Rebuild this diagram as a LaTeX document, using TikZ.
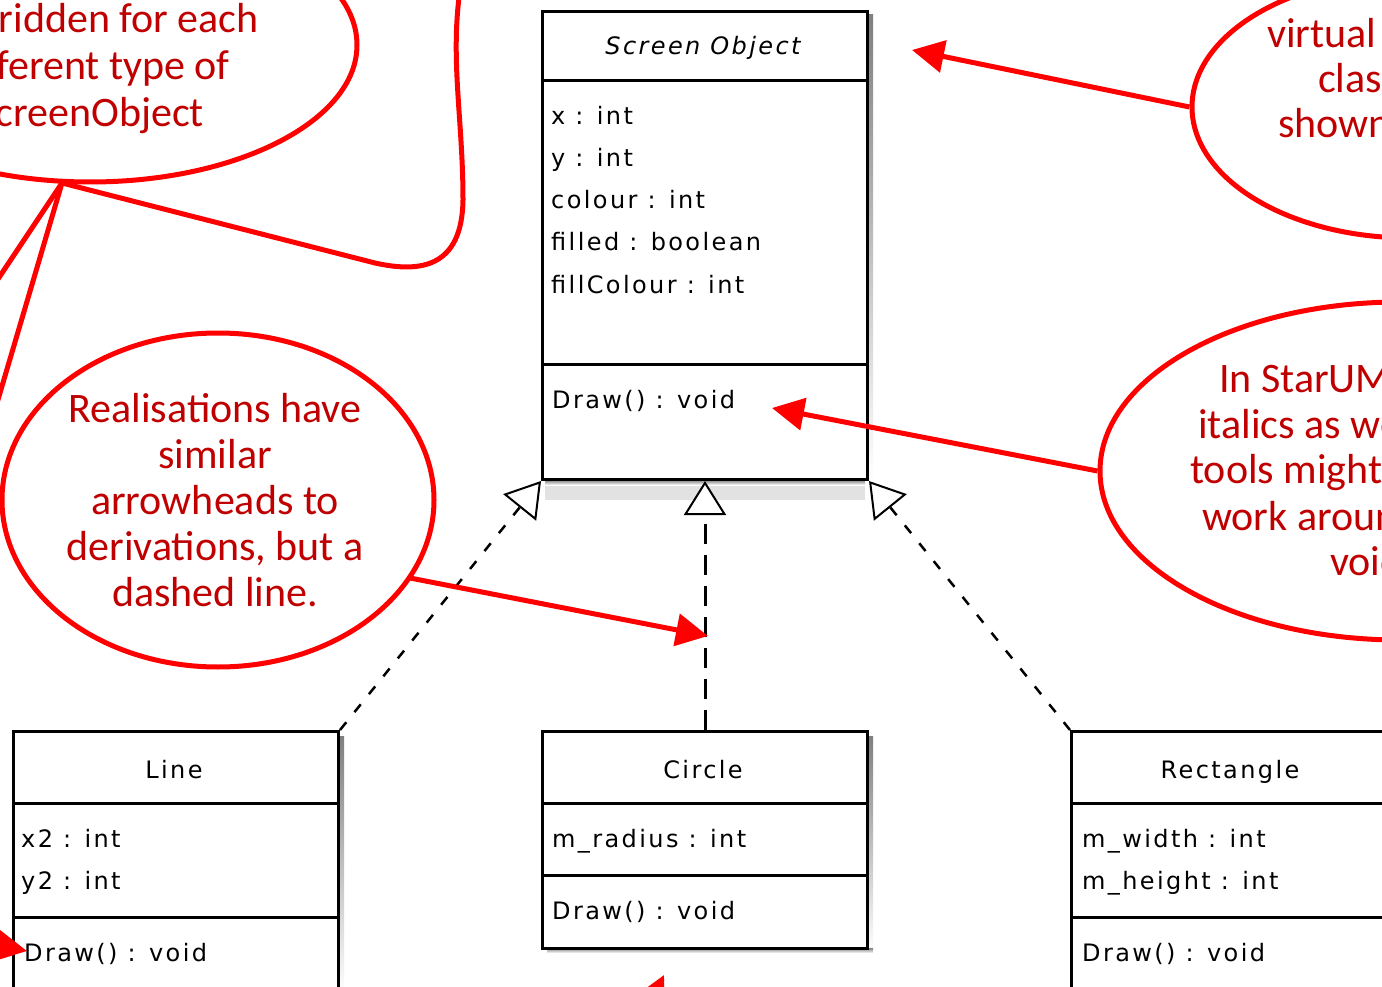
\documentclass[tikz,border=0pt]{standalone}
\usepackage{fontspec}
\usetikzlibrary{arrows.meta,shapes.geometric}
\newfontfamily\callfont{Carlito}
\newfontfamily\umlfont[LetterSpace=10]{DejaVu Sans}
\definecolor{calloutred}{HTML}{FF0000}
\definecolor{callouttext}{HTML}{C00000}
\definecolor{shade}{HTML}{D6D6D6}
\definecolor{shadelight}{HTML}{E2E2E2}

\begin{document}
\begin{tikzpicture}[x=1pt,y=-1pt,
  classbox/.style={draw=black, line width=3pt, fill=white, anchor=north west,
    minimum width=325pt, inner sep=0pt},
  divider/.style={line width=3pt},
  member/.style={anchor=base west, inner sep=0pt, font=\umlfont\fontsize{24}{24}\selectfont},
  classname/.style={anchor=base, inner sep=0pt, font=\umlfont\fontsize{24}{24}\selectfont},
  bubble/.style={ellipse, draw=calloutred, line width=5pt, inner sep=0pt},
  bubbleline/.style={draw=calloutred, line width=5pt, line join=round},
  note/.style={inner sep=0pt, text=callouttext, font=\callfont\fontsize{42}{46}\selectfont},
  pointer/.style={draw=calloutred, line width=5pt,
    -{Triangle[length=32pt,width=32pt,fill=calloutred]}},
  realise/.style={line width=2.5pt, dash pattern=on 10pt off 13pt,
    -{Triangle[length=34pt,width=42pt,fill=white,line width=2pt]}},
  realisev/.style={line width=3pt, dash pattern=on 20pt off 11pt,
    -{Triangle[length=34pt,width=42pt,fill=white,line width=2pt]}},
]
\useasboundingbox (0,0) rectangle (1382,987);
\clip (0,0) rectangle (1382,987);
\fill[white] (0,0) rectangle (1382,987);

% drop shadows of the class boxes
\fill[shade] (867,15) rectangle (873,480);
\fill[shadelight] (545,480) rectangle (865,500);
\fill[shade] (545,480) rectangle (865,485);
\fill[shade] (867,736) rectangle (873,953);
\fill[shade] (547,948) rectangle (873,953);
\fill[shade] (338,736) rectangle (344,995);

% ScreenObject
\node[classbox, minimum height=468pt] (so) at (541,10) {};
\draw[divider] (541,81) -- (866,81);
\draw[divider] (541,364) -- (866,364);
\node[classname, font=\umlfont\itshape\fontsize{24}{24}\selectfont] (soname) at (703,55) {Screen Object};
\node[member] (sox) at (551,125) {x : int};
\node[member] (soy) at (551,167) {y : int};
\node[member] (socol) at (551,209) {colour : int};
\node[member] (sofil) at (551,251) {filled : boolean};
\node[member] (sofc) at (551,294) {fillColour : int};
\node[member] (sodraw) at (552,408) {Draw() : void};

% Line
\node[classbox, minimum height=300pt] (line) at (12,730) {};
\draw[divider] (12,803) -- (337,803);
\draw[divider] (12,917) -- (337,917);
\node[classname] (linename) at (174,778) {Line};
\node[member] (linex) at (21,847) {x2 : int};
\node[member] (liney) at (21,889) {y2 : int};
\node[member] (linedraw) at (24,961) {Draw() : void};

% Circle
\node[classbox, minimum height=217pt] (circ) at (541,730) {};
\draw[divider] (541,803) -- (866,803);
\draw[divider] (541,875) -- (866,875);
\node[classname] (circname) at (703,778) {Circle};
\node[member] (circr) at (552,847) {m\_radius : int};
\node[member] (circdraw) at (552,919) {Draw() : void};

% Rectangle
\node[classbox, minimum height=300pt] (rect) at (1070,730) {};
\draw[divider] (1070,803) -- (1395,803);
\draw[divider] (1070,917) -- (1395,917);
\node[classname] (rectname) at (1230,778) {Rectangle};
\node[member] (rectw) at (1082,847) {m\_width : int};
\node[member] (recth) at (1082,889) {m\_height : int};
\node[member] (rectdraw) at (1082,961) {Draw() : void};

% realisation connectors
\draw[realise] (line.north east) -- (so.south west);
\draw[realisev] (circ.north) -- (so.south);
\draw[realise] (rect.north west) -- (so.south east);

% callouts
\node[bubble, minimum width=534pt, minimum height=274pt] (c1) at (90,45) {};
\node[bubble, minimum width=436pt, minimum height=262pt] (c2) at (1410,107) {};
\node[bubble, minimum width=600pt, minimum height=338pt] (c3) at (1400,471) {};
\node[bubble, minimum width=432pt, minimum height=334pt] (c4) at (218,500) {};

\coordinate (c1tip) at (62,183);
\draw[bubbleline] (c1tip) -- (375,263) .. controls (420,273) and (462,268) .. (463,200)
  .. controls (463,120) and (450,60) .. (460,-10);
\draw[bubbleline] (c1tip) -- (-8,288);
\draw[bubbleline] (c1tip) -- (-8,420);

\node[note, anchor=base east] (n1a) at (259,33) {ridden for each};
\node[note, anchor=base east] (n1b) at (230,80) {ferent type of};
\node[note, anchor=base east] (n1c) at (204,127) {creenObject};

\node[note, anchor=base west] (n2a) at (1267,48) {virtual};
\node[note, anchor=base west] (n2b) at (1318,93) {class};
\node[note, anchor=base west] (n2c) at (1278,138) {shown};

\node[note, anchor=base west] (n3a) at (1219,392) {In StarUML};
\node[note, anchor=base west] (n3b) at (1198,438) {italics as well};
\node[note, anchor=base west] (n3c) at (1190,483) {tools might};
\node[note, anchor=base west] (n3d) at (1202,530) {work around};
\node[note, anchor=base west] (n3e) at (1330,575) {void};

\node[note, anchor=base] (n4a) at (215,422) {Realisations have};
\node[note, anchor=base] (n4b) at (215,468) {similar};
\node[note, anchor=base] (n4c) at (215,514) {arrowheads to};
\node[note, anchor=base] (n4d) at (215,560) {derivations, but a};
\node[note, anchor=base] (n4e) at (215,606) {dashed line.};

% callout pointers
\coordinate (c4out) at (410,578);
\coordinate (tgtA) at (912,50);
\coordinate (tgtB) at (772,408);
\coordinate (tgtC) at (708,636);
\coordinate (offL) at (-60,935);
\coordinate (tgtD) at (27,951);
\coordinate (offB) at (620,1065);
\coordinate (tgtE) at (664,975);
\draw[pointer] (c2.west) -- (tgtA);
\draw[pointer] (c3.west) -- (tgtB);
\draw[pointer] (c4out) -- (tgtC);
\draw[pointer] (offL) -- (tgtD);
\draw[pointer] (offB) -- (tgtE);
\end{tikzpicture}
\end{document}
